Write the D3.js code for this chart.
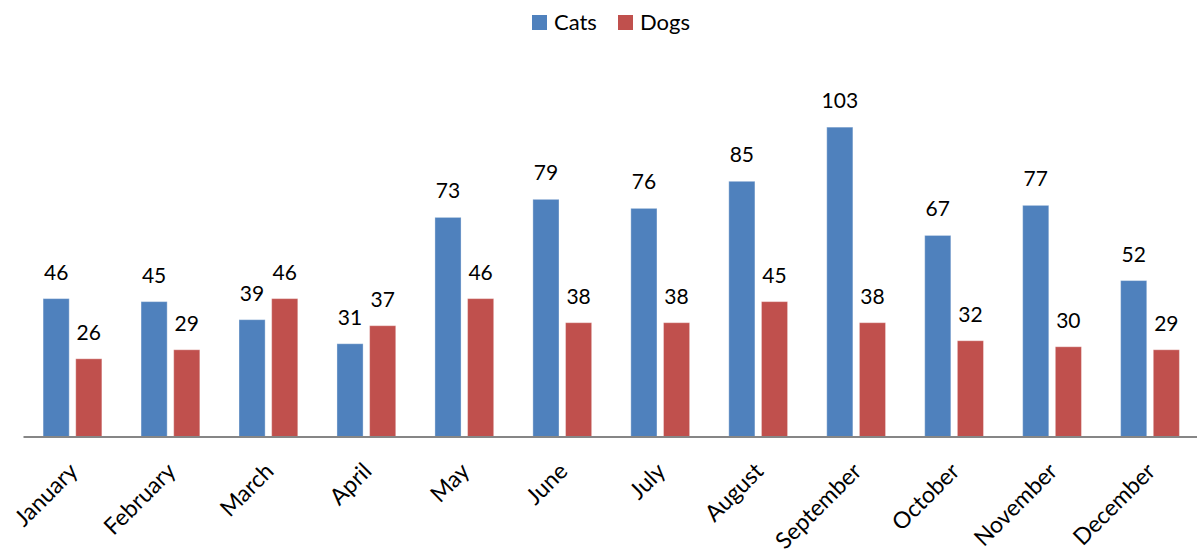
<!DOCTYPE html>
<html>
<head>
<meta charset="utf-8">
<script src="https://cdn.jsdelivr.net/npm/d3@7"></script>
<style>
  body { margin: 0; background: #fff; }
  text { font-family: Lato, "Open Sans", sans-serif; fill: #000; }
</style>
</head>
<body>
<div id="chart-area"></div>
<script>
var months = ["January", "February", "March", "April", "May", "June", "July",
	"August", "September", "October", "November", "December"];
var seriesNames = ["Cats", "Dogs"];
var cats = [46, 45, 39, 31, 73, 79, 76, 85, 103, 67, 77, 52];
var dogs = [26, 29, 46, 37, 46, 38, 38, 45, 38, 32, 30, 29];
var colors = ["#4F81BD", "#C0504D"];

var width = 1197;
var height = 557;

var svg = d3.select("#chart-area")
	.append("svg")
	.attr("width", width)
	.attr("height", height);

var data = months.map((m, i) => { return {month: m, values: [cats[i], dogs[i]]}; });

// scales
var x0 = d3.scaleBand()
	.domain(months)
	.range([23.5, 1199]);
var x1 = d3.scaleBand()
	.domain(seriesNames)
	.range([0, x0.bandwidth()])
	.paddingInner(0.2)
	.paddingOuter(0.6);
var y = d3.scaleLinear()
	.domain([0, 120])
	.range([437, 76]);
var color = d3.scaleOrdinal().domain(seriesNames).range(colors);

var groups = svg.selectAll("g.month").data(data)
	.enter()
	.append("g")
	.attr("class", "month")
	.attr("transform", (d) => { return "translate(" + x0(d.month) + ",0)"; });

var bars = groups.selectAll("g.bar")
	.data((d) => { return seriesNames.map((s, j) => { return {series: s, value: d.values[j]}; }); })
	.enter()
	.append("g")
	.attr("class", "bar");

bars.append("rect")
	.attr("x", (d) => { return x1(d.series); })
	.attr("y", (d) => { return y(d.value); })
	.attr("width", x1.bandwidth())
	.attr("height", (d) => { return y(0) - y(d.value); })
	.attr("fill", (d) => { return color(d.series); })
	.attr("stroke", "#ffffff")
	.attr("stroke-opacity", 0.35)
	.attr("stroke-width", 1);

bars.append("text")
	.attr("x", (d) => { return x1(d.series) + x1.bandwidth() / 2; })
	.attr("y", (d) => { return y(d.value) - 19; })
	.attr("text-anchor", "middle")
	.attr("font-size", "21px")
	.text((d) => { return d.value; });

// x axis
var bottomAxis = d3.axisBottom(x0).tickSize(0).tickPadding(0);
var xAxis = svg.append("g")
	.attr("class", "x axis")
	.attr("transform", "translate(0," + y(0) + ")")
	.call(bottomAxis);
xAxis.select(".domain")
	.attr("stroke", "#868686")
	.attr("stroke-width", 2)
	.attr("d", "M" + x0.range()[0] + ",0H" + width);
xAxis.selectAll(".tick text")
	.attr("font-size", "23px")
	.attr("font-family", "Lato, 'Open Sans', sans-serif")
	.attr("fill", "#000")
	.attr("text-anchor", "end")
	.attr("x", 0).attr("y", 0).attr("dy", "0.35em")
	.attr("transform", "translate(1,30) rotate(-45)");

// legend
var legend = svg.append("g").attr("class", "legend");
var legendX = [532, 618];
seriesNames.forEach((s, i) => {
	legend.append("rect")
		.attr("x", legendX[i])
		.attr("y", 15)
		.attr("width", 15)
		.attr("height", 15)
		.attr("fill", color(s));
	legend.append("text")
		.attr("x", legendX[i] + 22)
		.attr("y", 30)
		.attr("font-size", "22px")
		.text(s);
});
</script>
</body>
</html>
